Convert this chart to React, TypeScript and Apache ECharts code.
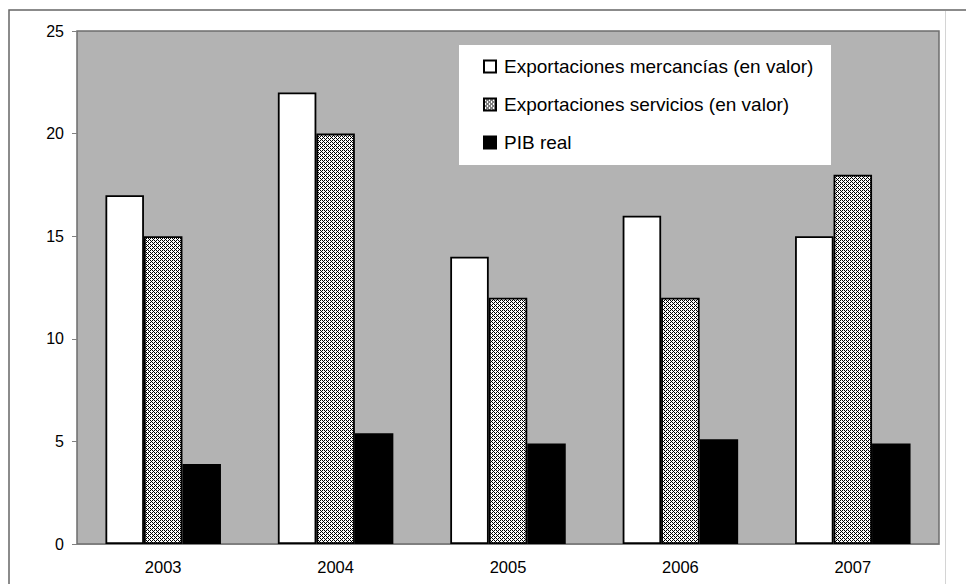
import React, { useEffect, useRef } from "react";
import * as echarts from "echarts";

const categories = ["2003", "2004", "2005", "2006", "2007"];
const seriesNames = [
  "Exportaciones mercancías (en valor)",
  "Exportaciones servicios (en valor)",
  "PIB real",
];
const mercancias = [17, 22, 14, 16, 15];
const servicios = [15, 20, 12, 12, 18];
const pibReal = [3.9, 5.4, 4.9, 5.1, 4.9];
const yTicks = { min: 0, max: 25, interval: 5 };

const FONT = "'Liberation Sans', Arial, sans-serif";

function makePattern(): HTMLCanvasElement {
  const c = document.createElement("canvas");
  c.width = 4;
  c.height = 4;
  const ctx = c.getContext("2d")!;
  ctx.fillStyle = "#ffffff";
  ctx.fillRect(0, 0, 4, 4);
  ctx.fillStyle = "#000000";
  const dark = [
    [0, 0],
    [2, 0],
    [0, 2],
    [2, 2],
    [1, 3],
    [3, 1],
  ];
  dark.forEach(([x, y]) => ctx.fillRect(x, y, 1, 1));
  return c;
}

export default function App() {
  const ref = useRef<HTMLDivElement>(null);
  useEffect(() => {
    document.body.style.margin = "0";
    const chart = echarts.init(ref.current!, null, { renderer: "svg" });
    const pattern = { image: makePattern(), repeat: "repeat" } as any;
    const barBorder = { borderColor: "#000", borderWidth: 1.8 };
    chart.setOption({
      animation: false,
      textStyle: { fontFamily: FONT },
      grid: {
        left: 77,
        top: 31,
        right: 27,
        bottom: 40,
        show: true,
        backgroundColor: "#b3b3b3",
        borderColor: "#6e6e6e",
        borderWidth: 1.5,
      },
      graphic: [
        {
          type: "rect",
          shape: { x: 9, y: 10, width: 1000, height: 700 },
          style: { fill: "none", stroke: "#666", lineWidth: 1.5 },
          z: 0,
          silent: true,
        },
        {
          type: "line",
          shape: { x1: 945.5, y1: 11, x2: 945.5, y2: 584 },
          style: { stroke: "#d4d4d4", lineWidth: 1 },
          silent: true,
        },
        {
          type: "rect",
          shape: { x: 459, y: 45, width: 372, height: 120 },
          style: { fill: "#ffffff" },
          z: 3,
          silent: true,
        },
      ],
      legend: {
        orient: "vertical",
        left: 483,
        top: 57,
        padding: 0,
        itemGap: 19,
        itemWidth: 12,
        itemHeight: 12,
        icon: "rect",
        z: 5,
        textStyle: {
          fontSize: 19,
          color: "#000",
          fontFamily: FONT,
          padding: [0, 0, 0, 3],
        },
        data: seriesNames,
      },
      xAxis: {
        type: "category",
        data: categories,
        axisLine: { lineStyle: { color: "#808080", width: 1 } },
        axisTick: { length: 5, lineStyle: { color: "#a0a0a0" } },
        axisLabel: { fontSize: 16.5, color: "#000", margin: 14, fontFamily: FONT },
        splitLine: { show: false },
      },
      yAxis: {
        type: "value",
        min: yTicks.min,
        max: yTicks.max,
        interval: yTicks.interval,
        axisLine: { show: false },
        axisTick: { show: true, length: 5, lineStyle: { color: "#808080" } },
        axisLabel: { fontSize: 16, color: "#000", margin: 13, fontFamily: FONT },
        splitLine: { show: false },
      },
      series: [
        {
          name: seriesNames[0],
          type: "bar",
          data: mercancias,
          barGap: "0%",
          barCategoryGap: "33%",
          itemStyle: { color: "#ffffff", ...barBorder },
        },
        {
          name: seriesNames[1],
          type: "bar",
          data: servicios,
          barGap: "0%",
          barCategoryGap: "33%",
          itemStyle: { color: pattern, ...barBorder },
        },
        {
          name: seriesNames[2],
          type: "bar",
          data: pibReal,
          barGap: "0%",
          barCategoryGap: "33%",
          itemStyle: { color: "#000000", ...barBorder },
        },
      ],
    });
    return () => chart.dispose();
  }, []);
  return (
    <div
      ref={ref}
      style={{ position: "absolute", left: 0, top: 0, width: 966, height: 584, background: "#fff" }}
    />
  );
}
